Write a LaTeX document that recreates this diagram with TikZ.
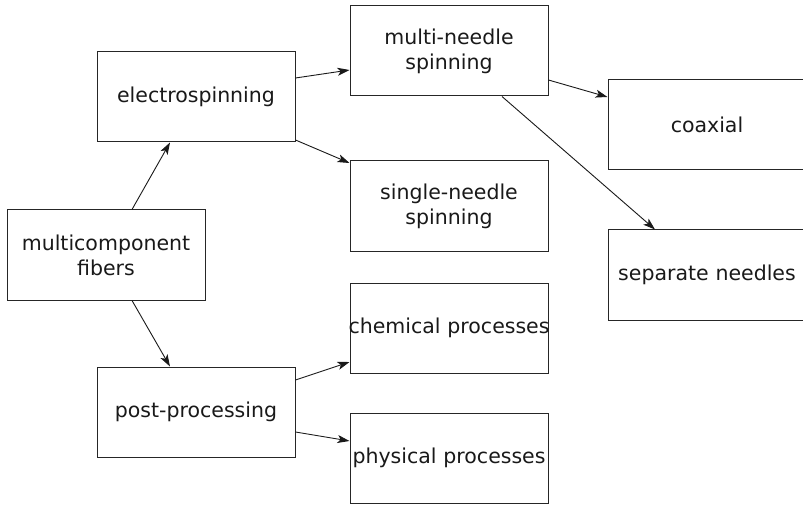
\documentclass[tikz,border=0pt]{standalone}
\usepackage{fontspec}
\setmainfont{DejaVu Sans}
\usetikzlibrary{arrows.meta,calc}
\begin{document}
\begin{tikzpicture}[x=1pt,y=-1pt,
  box/.style={draw=black!85,line width=1pt,rectangle,minimum width=198pt,minimum height=90pt,
    text width=198pt,inner sep=0pt,align=center,font=\fontsize{20.5}{25}\selectfont,text=black!90},
  link/.style={draw=black!90,line width=0.9pt,-{Stealth[length=12pt,width=8pt,inset=3pt]}}]
\useasboundingbox (0,0) rectangle (803,505);
\node[box] (fib)    at (106,255) {multicomponent\\fibers};
\node[box] (elec)   at (196,97)  {electrospinning};
\node[box] (post)   at (196,412) {post-processing};
\node[box] (multi)  at (449,51)  {multi-needle\\spinning};
\node[box] (single) at (449,206) {single-needle\\spinning};
\node[box] (chem)   at (449,328) {\makebox[198pt][c]{chemical processes}};
\node[box] (phys)   at (449,458) {physical processes};
\node[box] (coax)   at (707,125) {coaxial};
\node[box] (sep)    at (707,275) {separate needles};
\draw[link] ($(fib.north)+(26,0)$) -- ($(elec.south)+(-26,0)$);
\draw[link] ($(fib.south)+(26,0)$) -- ($(post.north)+(-26,0)$);
\draw[link] ($(elec.east)+(0,-19)$) -- ($(multi.west)+(0,19)$);
\draw[link] ($(elec.east)+(0,43)$) -- ($(single.west)+(0,-43)$);
\draw[link] ($(multi.east)+(0,29)$) -- ($(coax.west)+(0,-28)$);
\draw[link] ($(multi.south)+(53,0)$) -- ($(sep.north)+(-52,0)$);
\draw[link] ($(post.east)+(0,-32)$) -- ($(chem.west)+(0,34)$);
\draw[link] ($(post.east)+(0,20)$) -- ($(phys.west)+(0,-17)$);
\end{tikzpicture}
\end{document}
